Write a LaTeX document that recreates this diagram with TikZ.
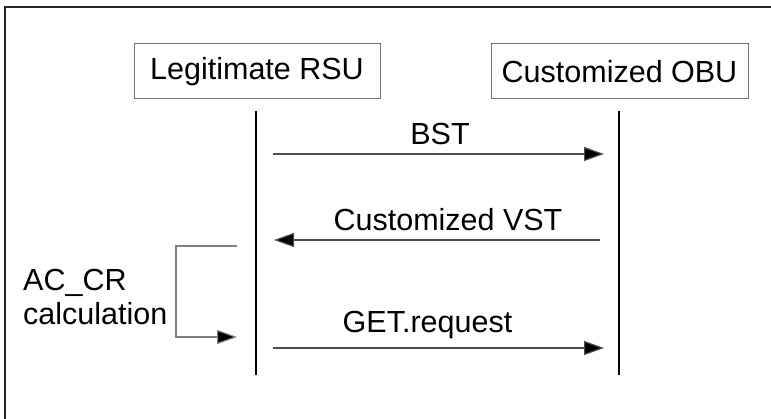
\documentclass[tikz,border=0pt]{standalone}
\usepackage{fontspec}
\setmainfont{Liberation Sans}
\usetikzlibrary{arrows.meta}
\begin{document}
\begin{tikzpicture}[x=1pt,y=-1pt,
  actor/.style={draw=black!55, line width=1pt, minimum width=246pt, minimum height=55pt, inner sep=0pt, font=\fontsize{30.5}{34}\selectfont},
  life/.style={line width=2.8pt, black},
  msg/.style={line width=1.2pt, draw=black!70, -{Triangle[length=20pt,width=14pt,fill=black]}},
  loopline/.style={line width=1.1pt, draw=black!50, -{Triangle[length=20pt,width=14pt,fill=black]}},
  lbl/.style={font=\fontsize{30.5}{34}\selectfont, anchor=base, inner sep=0pt},
  frame/.style={line width=1.2pt, draw=black!85}
]
\useasboundingbox (0,0) rectangle (771,419);
% outer frame (open on the right and bottom)
\coordinate (fbl) at (5,425);
\coordinate (ftl) at (5,7);
\coordinate (ftr) at (780,7);
\draw[frame] (fbl) -- (ftl) -- (ftr);

% actors
\node[actor] (rsu) at (257,71.5) {Legitimate RSU};
\node[actor, minimum width=257pt] (obu) at (619.5,71.5) {Customized OBU};

% lifelines
\coordinate (rsuTop) at (256,111);
\coordinate (rsuBot) at (256,375);
\coordinate (obuTop) at (619,111);
\coordinate (obuBot) at (619,375);
\draw[life] (rsuTop) -- (rsuBot);
\draw[life] (obuTop) -- (obuBot);

% messages
\coordinate (bstA) at (273,154);
\coordinate (bstB) at (604,154);
\draw[msg] (bstA) -- (bstB);
\node[lbl] (bstL) at (440,145) {BST};

\coordinate (vstA) at (600,240);
\coordinate (vstB) at (274,240);
\draw[msg] (vstA) -- (vstB);
\node[lbl] (vstL) at (448,231) {Customized VST};

\coordinate (getA) at (273,348);
\coordinate (getB) at (604,348);
\draw[msg] (getA) -- (getB);
\node[lbl] (getL) at (427.5,333) {GET.request};

% self loop
\coordinate (loopA) at (237,246);
\coordinate (loopC) at (176,246);
\coordinate (loopD) at (176,337);
\coordinate (loopB) at (237,337);
\draw[loopline] (loopA) -- (loopC) -- (loopD) -- (loopB);
\node[lbl, anchor=base west] (ac1) at (23,291) {AC\_CR};
\node[lbl, anchor=base west] (ac2) at (23,325) {calculation};
\end{tikzpicture}
\end{document}
